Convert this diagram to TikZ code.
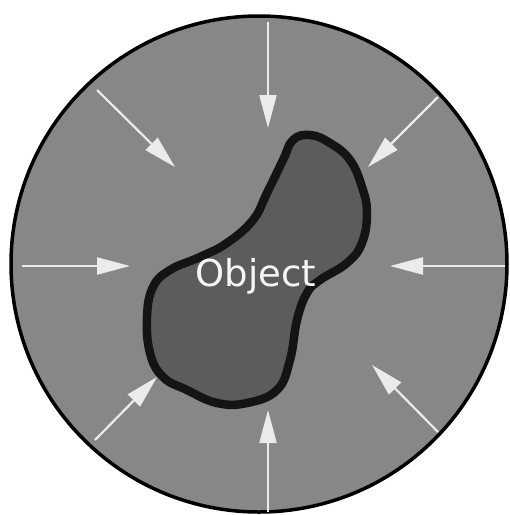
\documentclass[tikz,border=0pt]{standalone}
\usepackage{fontspec}
\newfontfamily\labelfont{DejaVu Sans}
\usetikzlibrary{arrows.meta}
\begin{document}
\begin{tikzpicture}[
    x=1pt, y=-1pt,
    ring/.style={draw=black, line width=3.5pt, fill=black!47},
    blob/.style={draw=black!92, line width=8.5pt, line join=round, fill=black!64},
    push/.style={draw=black!8, line width=2.2pt,
        -{Triangle[length=33pt, width=17pt]}},
    lbl/.style={text=black!4, font=\labelfont\fontsize{37}{37}\selectfont, inner sep=0pt}
]
    \useasboundingbox (0,0) rectangle (510,515);

    % the field round the object
    \draw[ring] (259,264) circle (248);

    % the object
    \draw[blob] plot[smooth cycle, tension=0.7] coordinates {
        (310,135) (330,143) (350,160) (362,187) (367,213) (362,243)
        (347,263) (320,280) (307,293) (297,320) (290,360) (277,390)
        (247,403) (217,403) (187,390) (163,377) (150,353) (147,317)
        (153,287) (170,270) (200,257) (227,243) (253,220) (267,193)
        (283,160) (293,140)};
    \node[lbl] (obj) at (256,276) {Object};

    % pressure from all sides
    \coordinate (nS) at (268,22);   \coordinate (nE) at (268,128);
    \coordinate (nwS) at (97,90);   \coordinate (nwE) at (175,167);
    \coordinate (neS) at (438,97);  \coordinate (neE) at (368,167);
    \coordinate (wS) at (22,266);   \coordinate (wE) at (130,266);
    \coordinate (eS) at (505,266);  \coordinate (eE) at (390,266);
    \coordinate (swS) at (95,440);  \coordinate (swE) at (157,377);
    \coordinate (seS) at (438,432); \coordinate (seE) at (372,365);
    \coordinate (sS) at (268,512);  \coordinate (sE) at (268,410);

    \foreach \d in {n, nw, ne, w, e, sw, se, s}
        \draw[push] (\d S) -- (\d E);
\end{tikzpicture}
\end{document}
